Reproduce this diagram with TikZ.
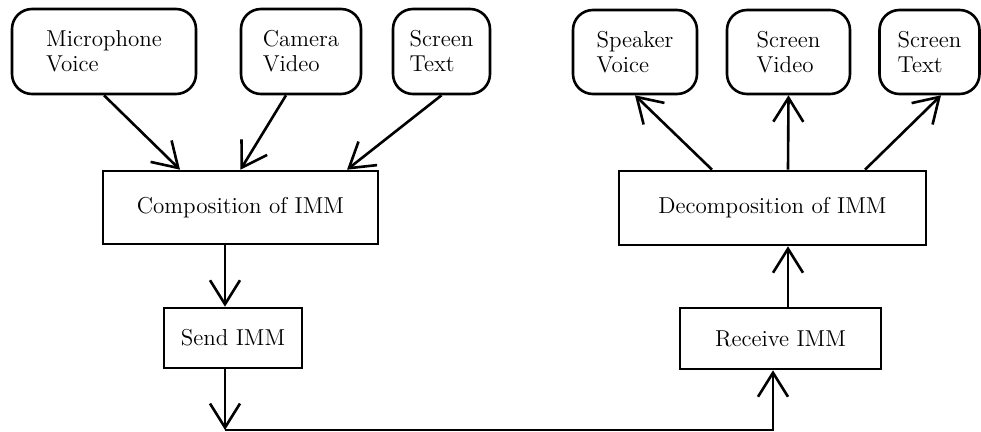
\documentclass[tikz,border=0pt]{standalone}
\usetikzlibrary{arrows.meta}
\newcommand{\immfont}{\fontsize{11.5}{12.5}\selectfont}
\begin{document}
\begin{tikzpicture}[x=0.5pt,y=-0.5pt,
  srcbox/.style={draw,line width=\immlw,rounded corners=10pt,align=left,font=\immfont,inner sep=0pt},
  procbox/.style={draw,line width=\immlw,font=\immfont,inner sep=0pt},
  flow/.style={line width=\immlw,-{Straight Barb[length=12pt,width=15pt]}}]%
% sender side left, receiver side right
\ifx\immlw\undefined\newdimen\immlw\fi
\immlw=1.3bp
\useasboundingbox (0,0) rectangle (981,432);
\node[srcbox,minimum width=92pt,minimum height=42.5pt] (mic) at (104,51.5) {Microphone\\Voice};
\node[srcbox,minimum width=60pt,minimum height=42.5pt] (cam) at (301,51.5) {Camera\\Video};
\node[srcbox,minimum width=48.5pt,minimum height=42.5pt] (scrin) at (441.5,51.5) {Screen\\Text};
\node[procbox,minimum width=137.5pt,minimum height=36.5pt] (comp) at (240.5,207.5) {Composition of IMM};
\node[procbox,minimum width=69pt,minimum height=30pt] (send) at (233,338) {Send IMM};
\node[procbox,minimum width=100.5pt,minimum height=30.5pt] (recv) at (780.5,338.5) {Receive IMM};
\node[procbox,minimum width=153.5pt,minimum height=37pt] (decomp) at (772.5,208) {Decomposition of IMM};
\node[srcbox,minimum width=62pt,minimum height=42pt] (spk) at (635,52) {Speaker\\Voice};
\node[srcbox,minimum width=61.5pt,minimum height=42pt] (scrvid) at (788.5,52) {Screen\\Video};
\node[srcbox,minimum width=50pt,minimum height=42pt] (scrout) at (929.5,52) {Screen\\Text};
\coordinate (sendturn) at (225,430);
\coordinate (recvturn) at (773,430);
\draw[flow] (mic.south) -- ([xshift=-30.25pt]comp.north);
\draw[flow] ([xshift=-7.5pt]cam.south) -- (comp.north);
\draw[flow] (scrin.south) -- ([xshift=53.25pt]comp.north);
\draw[flow] ([xshift=-7.75pt]comp.south) -- ([xshift=-4pt]send.north);
\draw[flow] ([xshift=-4pt]send.south) -- (sendturn);
\draw[flow] (sendturn) -- (recvturn) -- ([xshift=-3.75pt]recv.south);
\draw[flow] ([xshift=3.75pt]recv.north) -- ([xshift=7.75pt]decomp.south);
\draw[flow] ([xshift=-30.25pt]decomp.north) -- (spk.south);
\draw[flow] ([xshift=7.75pt]decomp.north) -- (scrvid.south);
\draw[flow] ([xshift=46.25pt]decomp.north) -- ([xshift=5.75pt]scrout.south);
\end{tikzpicture}
\end{document}
